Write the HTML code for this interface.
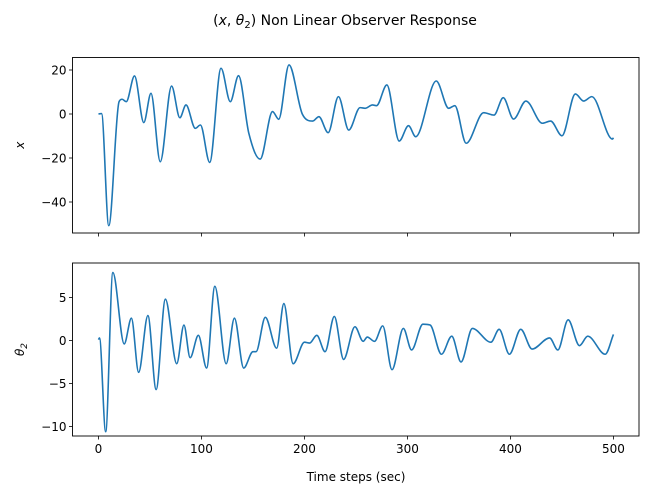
<!DOCTYPE html>
<html><head><meta charset="utf-8"><style>
body{margin:0;background:#fff}
svg{font-family:"DejaVu Sans","Liberation Sans",sans-serif}
</style></head><body>
<svg id="c" width="649" height="494" xmlns="http://www.w3.org/2000/svg"></svg>
<script>
const xT=[0,3,10,20,23,27,35,44,51,60,71,79,85,94,99,108,119,128,136,146,157,169,175,185,198,208,214,223,233,243,254,259,266,270,280,292,301,308,328,340,346,357,374,384,393,403,415,431,439,450,463,471,479,499,500];
const xV=[0,0.2,-50.8,5.6,6.7,5.6,17.3,-3.9,9.4,-21.7,12.7,-1.7,4.1,-6.5,-5,-22,20.8,5.6,17.4,-8.8,-20.5,1.1,-2.4,22.3,-0.1,-3.2,-1.2,-8.5,7.9,-7.3,2.9,2.6,4.1,3.8,13.2,-12.3,-5.3,-10.3,15,2.6,3.8,-13.3,0.6,-0.5,7.4,-2.3,5.9,-4.2,-3.2,-9.9,9.1,5.9,7.9,-11.4,-10.8];
const thT=[0,1,7,14,25,32,39,48,56,65,76,83,89,97,105,113,124,132,141,150,153,162,173,180,189,200,205,212,220,229,238,249,257,261,268,276,285,296,304,315,322,333,343,352,363,381,389,399,410,421,438,446,456,467,475,492,500];
const thV=[0.1,0.3,-10.6,7.9,-0.4,2.6,-3.7,2.9,-5.7,4.8,-2.7,1.8,-2.0,0.6,-3.2,6.3,-2.7,2.6,-3.2,-1.3,-1.3,2.7,-0.9,4.3,-2.7,-0.2,-0.3,0.6,-1.3,2.8,-2.2,1.6,-0.1,0.4,-0.1,1.7,-3.4,1.4,-1.1,1.9,1.8,-1.6,0.5,-2.5,1.4,-0.2,1.3,-1.6,1.3,-1.0,0.3,-1.1,2.4,-0.6,0.5,-1.6,0.7];
const xTicks=[0,100,200,300,400,500];
const topTicks=[20,0,-20,-40];
const botTicks=[5,0,-5,-10];

const NS="http://www.w3.org/2000/svg",svg=document.getElementById('c');
function mk(t,a,p){const e=document.createElementNS(NS,t);for(const k in a)e.setAttribute(k,a[k]);(p||svg).appendChild(e);return e;}
const L=72.5,R=639;
const xs=t=>L+(t+25.2)*1.03;
function monoPath(P){
  const n=P.length,d=[],m=new Array(n);
  for(let i=0;i<n-1;i++)d.push((P[i+1][1]-P[i][1])/(P[i+1][0]-P[i][0]));
  m[0]=d[0];m[n-1]=d[n-2];
  for(let i=1;i<n-1;i++){m[i]=(d[i-1]*d[i]<=0)?0:(d[i-1]+d[i])/2;}
  for(let i=0;i<n-1;i++){if(d[i]===0){m[i]=0;m[i+1]=0;continue;}
    const a=m[i]/d[i],b=m[i+1]/d[i],s=a*a+b*b;if(s>9){const tau=3/Math.sqrt(s);m[i]=tau*a*d[i];m[i+1]=tau*b*d[i];}}
  let s='M'+P[0][0]+','+P[0][1];
  for(let i=0;i<n-1;i++){const h=(P[i+1][0]-P[i][0])/3;
    s+=` C${P[i][0]+h},${P[i][1]+m[i]*h} ${P[i+1][0]-h},${P[i+1][1]-m[i+1]*h} ${P[i+1][0]},${P[i+1][1]}`;}
  return s;
}
function panel(top,bot,y0,k,ticks,T,V,label,name,showX){
  const ys=v=>y0-v*k;
  const g=mk('g',{});
  
  
  const P=T.map((t,i)=>[xs(t),ys(V[i])]);
  const ln=mk('path',{d:monoPath(P),fill:'none',stroke:'#1f77b4','stroke-width':1.6,'stroke-linejoin':'round'},g);
  
  
  const fr=mk('rect',{x:L,y:top,width:R-L,height:bot-top,fill:'none',stroke:'#000','stroke-width':0.9},g);
  
  
  ticks.forEach(v=>{const y=ys(v);mk('line',{x1:L-3.5,x2:L,y1:y,y2:y,stroke:'#000','stroke-width':0.8},g);
    const tx=mk('text',{x:L-6,y:y+4.5,'text-anchor':'end','font-size':12},g);tx.textContent=v<0?'\u2212'+(-v):v;
    
    });
  xTicks.forEach(t=>{const x=xs(t);mk('line',{x1:x,x2:x,y1:bot,y2:bot+3.5,stroke:'#000','stroke-width':0.8},g);
    if(showX){const tx=mk('text',{x:x,y:bot+17,'text-anchor':'middle','font-size':12},g);tx.textContent=t;
    
    }});
  const yl=mk('text',{x:0,y:0,'text-anchor':'middle','font-size':12,'font-style':'italic',transform:`translate(24,${(top+bot)/2}) rotate(-90)`},g);
  yl.innerHTML=label;
  
  
}
panel(57.5,233,114,2.2,topTicks,xT,xV,'x','x-panel',false);
panel(263,436,340.5,8.6,botTicks,thT,thV,'θ<tspan font-size="9" dy="3">2</tspan>','theta-panel',true);
const t=mk('text',{x:345,y:25,'text-anchor':'middle','font-size':14});
t.innerHTML='(<tspan font-style="italic">x</tspan>, <tspan font-style="italic">θ</tspan><tspan font-size="10" dy="3">2</tspan><tspan dy="-3">) Non Linear Observer Response</tspan>';


const xl=mk('text',{x:356,y:481,'text-anchor':'middle','font-size':12});
xl.textContent='Time steps (sec)';


</script>
</body></html>
